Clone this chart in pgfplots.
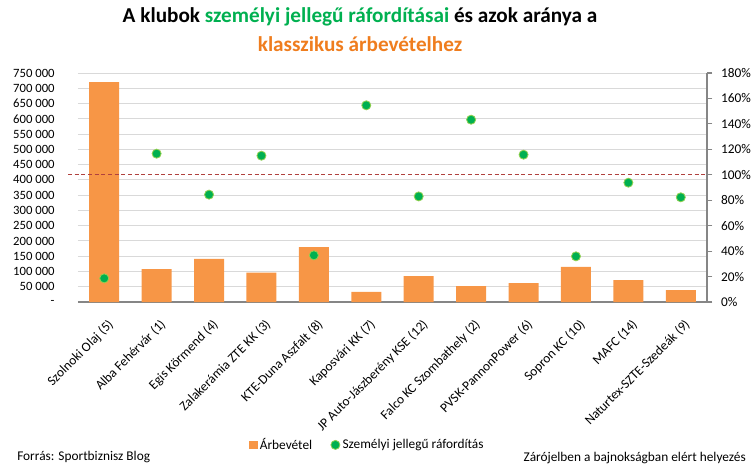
\documentclass[border=0pt]{standalone}
\usepackage{fontspec}
\setmainfont{Carlito}
\usepackage{pgfplots}
\pgfplotsset{compat=1.18}
\definecolor{barorange}{HTML}{F79646}
\definecolor{dotgreen}{HTML}{00B050}
\definecolor{dotedge}{HTML}{92D050}
\definecolor{titlegreen}{HTML}{00B050}
\definecolor{titleorange}{HTML}{EF7D1E}
\definecolor{gridgray}{HTML}{D9D9D9}
\definecolor{axisgray}{HTML}{868686}
\definecolor{refred}{HTML}{B0413E}
\begin{document}
\begin{tikzpicture}
\useasboundingbox (0,0) rectangle (567pt,351.75pt);
% title
\node[font=\fontsize{15.9}{18}\selectfont\bfseries] at (270pt,339pt)
  {A klubok \textcolor{titlegreen}{személyi jellegű ráfordításai} és azok aránya a};
\node[font=\fontsize{15.9}{18}\selectfont\bfseries, text=titleorange] at (270pt,318.75pt)
  {klasszikus árbevételhez};
% bars, left axis
\begin{axis}[
    at={(58.5pt,125.25pt)}, anchor=south west,
    scale only axis, width=471.75pt, height=171.75pt,
    xmin=-0.5, xmax=11.5,
    ymin=0, ymax=750000,
    scaled y ticks=false,
    axis x line*=bottom, axis y line*=left,
    y axis line style={draw=none},
    x axis line style={draw=axisgray, line width=0.8pt},
    ytick={0,50000,100000,150000,200000,250000,300000,350000,400000,450000,500000,550000,600000,650000,700000,750000},
    yticklabels={-\hspace{6pt},50 000,100 000,150 000,200 000,250 000,300 000,350 000,400 000,450 000,500 000,550 000,600 000,650 000,700 000,750 000},
    yticklabel style={anchor=east, xshift=-14pt, font=\fontsize{9.5}{11}\selectfont},
    ymajorgrids=true,
    grid style={gridgray, line width=0.75pt},
    xtick={0,1,2,3,4,5,6,7,8,9,10,11},
    xticklabels={Szolnoki Olaj (5),Alba Fehérvár (1),Egis Körmend (4),Zalakerámia ZTE KK (3),KTE-Duna Aszfalt (8),Kaposvári KK (7),JP Auto-Jászberény KSE (12),Falco KC Szombathely (2),PVSK-PannonPower (6),Sopron KC (10),MAFC (14),Naturtex-SZTE-Szedeák (9)},
    xticklabel style={rotate=45, anchor=north east, inner sep=0pt, xshift=-7pt, yshift=-10pt, font=\fontsize{10}{12}\selectfont},
    major tick length=0pt,
    ybar, bar width=22.5pt,
    clip=false,
]
\addplot[fill=barorange, draw=none] coordinates {
    (0,720000)(1,108000)(2,141000)(3,96000)(4,180000)(5,33000)
    (6,85000)(7,52000)(8,62000)(9,115000)(10,72000)(11,39000)
};
\end{axis}
% ratio, right axis
\begin{axis}[
    at={(58.5pt,125.25pt)}, anchor=south west,
    scale only axis, width=471.75pt, height=171.75pt,
    xmin=-0.5, xmax=11.5,
    ymin=0, ymax=180,
    axis x line=none, axis y line*=right,
    y axis line style={draw=axisgray, line width=0.8pt},
    ytick={0,20,40,60,80,100,120,140,160,180},
    yticklabels={0\%,20\%,40\%,60\%,80\%,100\%,120\%,140\%,160\%,180\%},
    yticklabel style={anchor=west, xshift=3pt},
    tick align=outside, major tick length=4pt,
    ytick style={draw=axisgray, line width=0.8pt},
    tick label style={font=\fontsize{10}{12}\selectfont},
    clip=false,
    legend style={at={(0.461,-0.624)}, anchor=center, draw=none, fill=none,
        legend columns=2, font=\fontsize{10}{12}\selectfont,
        /tikz/every even column/.append style={column sep=12pt}},
    legend cell align=left,
]
\addlegendimage{only marks, mark=square*, mark size=2.8pt, color=barorange}
\addplot[only marks, mark=*, mark size=3.4pt, mark options={fill=dotgreen, draw=dotedge, line width=0.6pt}] coordinates {
    (0,18.6)(1,116.6)(2,84.4)(3,115)(4,36.7)(5,154.6)
    (6,83)(7,143.3)(8,115.8)(9,35.9)(10,93.8)(11,82.3)
};
\legend{Árbevétel, Személyi jellegű ráfordítás}
\draw[refred, dash pattern=on 3pt off 2pt, line width=0.6pt] (axis cs:-0.69,100) -- (axis cs:11.5,100);
\end{axis}
% footers
\node[anchor=west, inner sep=0pt, font=\fontsize{10}{12}\selectfont] at (12.75pt,9pt) {Forrás: Sportbiznisz Blog};
\node[anchor=east, inner sep=0pt, font=\fontsize{10}{12}\selectfont] at (559.5pt,8.25pt) {Zárójelben a bajnokságban elért helyezés};
\end{tikzpicture}
\end{document}
